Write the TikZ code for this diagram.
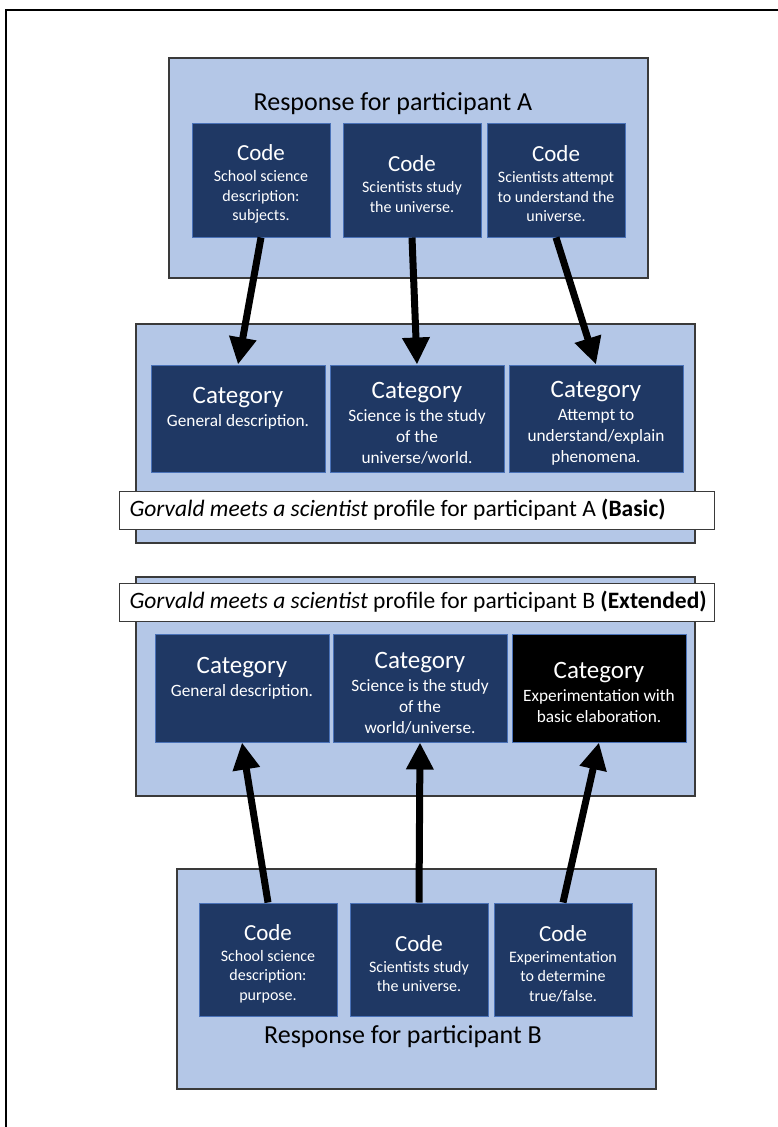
\documentclass[tikz,border=0pt]{standalone}
\usepackage{fontspec}
\setmainfont{Carlito}
\usetikzlibrary{positioning,arrows.meta}

\definecolor{panelblue}{HTML}{B4C7E7}
\definecolor{navy}{HTML}{1F3864}
\definecolor{edgeblue}{HTML}{4A72B8}
\definecolor{edgegray}{HTML}{3A3A3A}

\newcommand{\codehead}{{\fontsize{23}{27}\selectfont\rule{0pt}{24pt}Code}\\[1.5pt]}
\newcommand{\cathead}{{\fontsize{25}{29}\selectfont\rule{0pt}{26pt}Category}\\[2pt]}

\begin{document}
\begin{tikzpicture}[x=1pt, y=-1pt,
        panel/.style = {draw=edgegray, fill=panelblue, line width=1.2pt},
        codebox/.style = {draw=edgeblue, fill=navy, text=white, line width=1pt, minimum width=138pt, minimum height=114pt, align=center, inner sep=2pt, font=\fontsize{16}{19.5}\selectfont},
        catbox/.style = {codebox, minimum width=174pt, minimum height=107pt, font=\fontsize{17.3}{21}\selectfont},
        profile/.style = {draw=edgegray, fill=white, line width=1pt, anchor=west, text width=583pt, inner xsep=6pt, minimum height=38pt, align=flush left, font=\fontsize{23.5}{27}\selectfont},
        heading/.style = {font=\fontsize{26}{30}\selectfont},
        arr/.style = {line width=7pt, -{Triangle[width=26pt, length=27pt]}}]
            \useasboundingbox (0,0) rectangle (778,1127);
            \draw[line width=1.5pt] (6,1127) -- (6,10) -- (778,10);

            %participant A

            \draw[panel] (169,58) rectangle (648,278);
            \draw[panel] (136,324) rectangle (695,543);
            \node[profile] (profA) at (119,510) {\hspace*{4pt}\textit{Gorvald meets a scientist} profile for participant A \textbf{(Basic)}};
            \node[heading] (respA) at (393,104) {Response for participant A};

            \node[codebox] (codeA1) at (261,180) {\codehead School science\\description:\\subjects.};
            \node[codebox, right=12pt of codeA1] (codeA2) {\codehead Scientists study\\the universe.};
            \node[codebox, right=5pt of codeA2] (codeA3) {\codehead Scientists attempt\\to understand the\\universe.};

            \node[catbox] (catA1) at (238,418.5) {\cathead General description.\\[12pt]\mbox{}};
            \node[catbox, right=4pt of catA1] (catA2) {\cathead Science is the study\\of the\\universe/world.};
            \node[catbox, right=4pt of catA2] (catA3) {\cathead Attempt to\\understand/explain\\phenomena.};

            \draw[arr] (codeA1.south) -- (catA1.north);
            \draw[arr] (codeA2.south) -- (catA2.north);
            \draw[arr] (codeA3.south) -- (catA3.north);

            %participant B

            \draw[panel] (136,577) rectangle (695,796);
            \draw[panel] (177,869) rectangle (656,1089);
            \node[profile] (profB) at (119,602) {\hspace*{4pt}\textit{Gorvald meets a scientist} profile for participant B \textbf{(Extended)}};
            \node[heading] (respB) at (403,1037) {Response for participant B};

            \node[catbox, minimum height=108pt] (catB1) at (242,688) {\cathead General description.\\[12pt]\mbox{}};
            \node[catbox, minimum height=108pt, right=3pt of catB1] (catB2) {\cathead Science is the study\\of the\\world/universe.};
            \node[catbox, minimum height=108pt, fill=black, right=4pt of catB2] (catB3) {\cathead Experimentation with\\basic elaboration.};

            \node[codebox, minimum height=113pt] (codeB1) at (268,959.5) {\codehead School science\\description:\\purpose.};
            \node[codebox, minimum height=113pt, right=12pt of codeB1] (codeB2) {\codehead Scientists study\\the universe.};
            \node[codebox, minimum height=113pt, right=5pt of codeB2] (codeB3) {\codehead Experimentation\\to determine\\true/false.};

            \draw[arr] (codeB1.north) -- (catB1.south);
            \draw[arr] (codeB2.north) -- (catB2.south);
            \draw[arr] (codeB3.north) -- (catB3.south);
\end{tikzpicture}
\end{document}
